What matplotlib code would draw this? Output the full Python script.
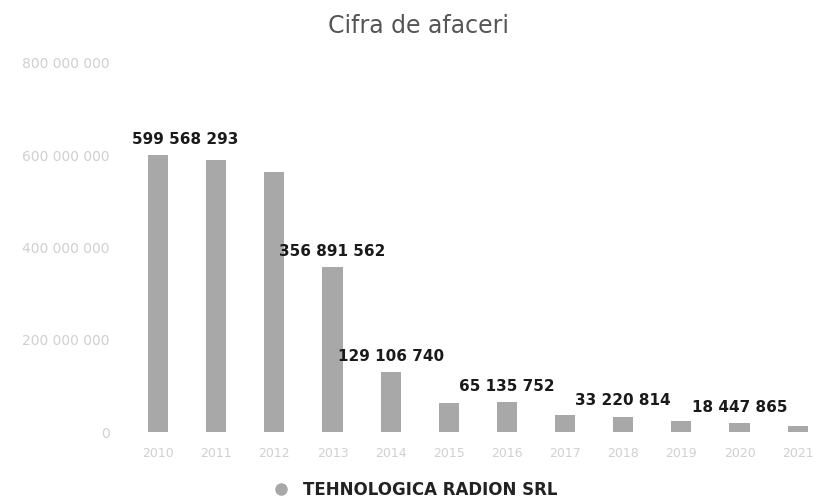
import matplotlib.pyplot as plt
from matplotlib.lines import Line2D
from matplotlib.ticker import FuncFormatter

# date
years = ["2010", "2011", "2012", "2013", "2014", "2015",
         "2016", "2017", "2018", "2019", "2020", "2021"]
turnover = [599568293, 589000000, 563000000, 356891562, 129106740, 62000000,
            65135752, 36000000, 33220814, 23000000, 18447865, 13000000]
labelled = {0, 3, 4, 6, 8, 10}  # bare cu eticheta de valoare
company = "TEHNOLOGICA RADION SRL"

bar_color = "#a8a8a8"
faint = "#d0d0d0"

fig = plt.figure(figsize=(8.18, 5.01), dpi=100)
ax = fig.add_axes([129 / 818, 69 / 501, 1 - 129 / 818, 369 / 501])

x = range(len(years))
bars = ax.bar(x, turnover, width=0.345, color=bar_color)

labels = []
for i, b in enumerate(bars):
    if i not in labelled:
        continue
    t = ax.annotate(f"{turnover[i]:,}".replace(",", " "),
                    (b.get_x() + b.get_width() / 2, b.get_height()),
                    xytext=(0, 6), textcoords="offset points",
                    ha="center", va="bottom", fontsize=11, fontweight="bold",
                    color="#1a1a1a")
    labels.append(t)

ax.set_ylim(0, 800000000)
ax.set_xlim(-0.5, 11.35)
ax.set_yticks([0, 200000000, 400000000, 600000000, 800000000])
ax.yaxis.set_major_formatter(FuncFormatter(lambda v, p: f"{int(v):,}".replace(",", " ")))
ax.set_xticks(list(x))
ax.set_xticklabels(years)
ax.tick_params(length=0, colors=faint)
ax.tick_params(axis="y", pad=14, labelsize=10)
ax.tick_params(axis="x", pad=11, labelsize=9)
for s in ax.spines.values():
    s.set_visible(False)

# etichetele care ies in stanga zonei de desen sunt impinse inauntru
fig.canvas.draw()
renderer = fig.canvas.get_renderer()
ax_left = ax.get_window_extent(renderer).x0
for t in labels:
    bb = t.get_window_extent(renderer)
    if bb.x0 < ax_left:
        dx = (ax_left + 3 - bb.x0) * 72 / fig.dpi
        t.set_position((dx, 6))

fig.text(419 / 818, 1 - 26 / 501, "Cifra de afaceri", ha="center", va="center",
         fontsize=17, color="#555555")

handle = Line2D([], [], marker="o", linestyle="none", markersize=8,
                color=bar_color)
leg = fig.legend([handle], [company], loc="center",
                 bbox_to_anchor=(411 / 818, 1 - 490 / 501), frameon=False,
                 prop={"weight": "bold", "size": 12}, handletextpad=0.3)
for t in leg.get_texts():
    t.set_color("#222222")

fig.savefig("out.png", dpi=100)
